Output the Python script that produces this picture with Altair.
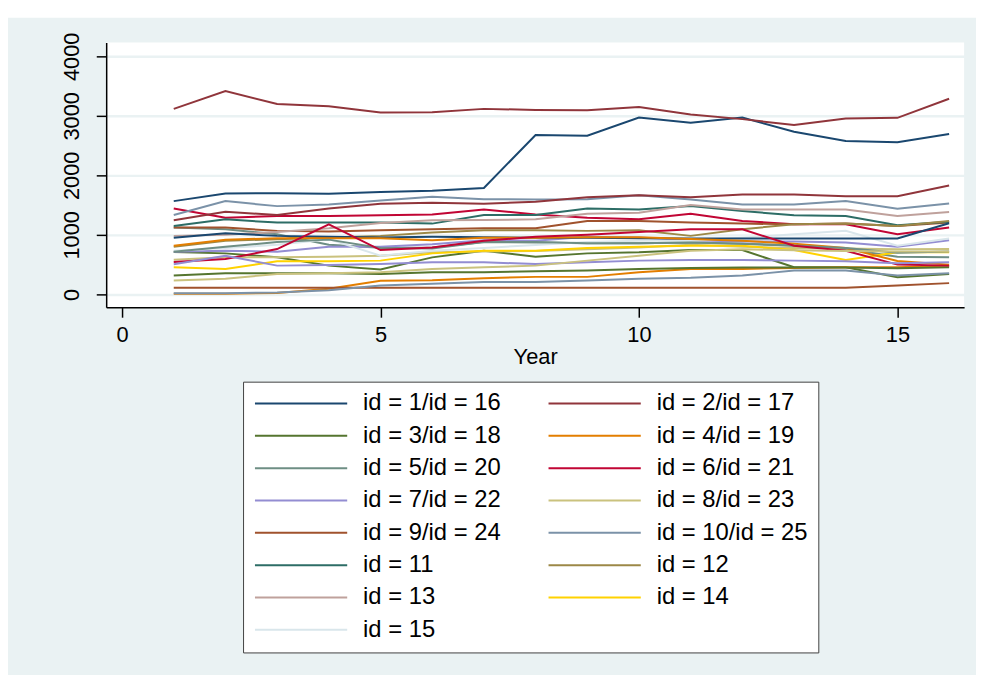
import altair as alt
import pandas as pd

years = list(range(1, 17))

s1 = [1567, 1694, 1700, 1689, 1722, 1740, 1789, 2678, 2667, 2972, 2883, 2972, 2733, 2578, 2555, 2695]
s2 = [3117, 3417, 3200, 3160, 3055, 3060, 3117, 3100, 3095, 3150, 3022, 2945, 2845, 2955, 2967, 3288]
s3 = [711, 689, 622, 483, 417, 622, 733, 633, 689, 706, 744, 744, 456, 456, 289, 344]
s4 = [11, 11, 22, 94, 228, 239, 272, 294, 294, 372, 428, 428, 444, 456, 456, 483]
s5 = [1122, 1094, 1011, 833, 783, 789, 880, 870, 860, 860, 872, 850, 817, 761, 633, 622]
s6 = [1444, 1289, 1317, 1317, 1328, 1344, 1428, 1344, 1289, 1261, 1356, 1233, 1178, 1178, 1011, 1122]
s7 = [717, 733, 717, 800, 800, 844, 911, 900, 967, 956, 911, 889, 889, 872, 800, 911]
s8 = [583, 622, 622, 633, 650, 706, 722, 730, 760, 789, 833, 800, 780, 770, 760, 761]
s9 = [1122, 1122, 1067, 1056, 1078, 1094, 1111, 1111, 1233, 1233, 1206, 1189, 1178, 1189, 1150, 1206]
s10 = [1333, 1567, 1483, 1511, 1578, 1639, 1600, 1594, 1600, 1667, 1594, 1511, 1511, 1567, 1439, 1528]
s11 = [1150, 1261, 1206, 1206, 1206, 1189, 1333, 1333, 1444, 1428, 1483, 1400, 1328, 1317, 1161, 1222]
s12 = [800, 900, 928, 956, 983, 1039, 1078, 1078, 1067, 1078, 983, 1094, 1178, 1189, 1150, 1233]
s13 = [983, 1000, 1050, 1111, 1200, 1244, 1250, 1261, 1356, 1372, 1500, 1428, 1428, 1428, 1317, 1383]
s14 = [456, 428, 556, 556, 567, 689, 733, 733, 778, 800, 817, 817, 744, 578, 706, 706]
s15 = [733, 778, 833, 928, 650, 733, 780, 830, 880, 900, 900, 950, 1011, 1067, 817, 939]
s16 = [950, 1028, 983, 967, 956, 967, 960, 950, 950, 945, 940, 939, 939, 939, 939, 1194]
s17 = [1244, 1389, 1333, 1444, 1522, 1539, 1522, 1556, 1633, 1667, 1633, 1678, 1678, 1650, 1650, 1828]
s18 = [317, 356, 356, 356, 344, 372, 372, 389, 400, 428, 444, 450, 450, 450, 440, 456]
s19 = [817, 917, 944, 944, 944, 911, 950, 950, 960, 960, 930, 900, 850, 780, 560, 500]
s20 = [717, 800, 880, 920, 780, 770, 880, 880, 860, 860, 870, 850, 820, 780, 700, 720]
s21 = [544, 594, 761, 1178, 744, 789, 900, 967, 1000, 1050, 1094, 1094, 817, 733, 500, 483]
s22 = [506, 650, 483, 494, 511, 539, 539, 511, 539, 567, 578, 578, 567, 556, 522, 539]
s23 = [233, 261, 344, 356, 372, 428, 456, 483, 567, 650, 733, 760, 740, 730, 720, 722]
s24 = [111, 111, 111, 111, 111, 111, 111, 111, 111, 111, 111, 111, 111, 111, 150, 189]
s25 = [20, 20, 30, 70, 150, 178, 206, 206, 233, 261, 278, 317, 400, 400, 317, 356]

series = [s1, s2, s3, s4, s5, s6, s7, s8, s9, s10, s11, s12, s13, s14, s15,
          s16, s17, s18, s19, s20, s21, s22, s23, s24, s25]

labels = ["id = 1/id = 16", "id = 2/id = 17", "id = 3/id = 18", "id = 4/id = 19",
          "id = 5/id = 20", "id = 6/id = 21", "id = 7/id = 22", "id = 8/id = 23",
          "id = 9/id = 24", "id = 10/id = 25", "id = 11", "id = 12", "id = 13",
          "id = 14", "id = 15"]

colors = ["#1a476f", "#90353b", "#55752f", "#e37e00", "#6e8e84", "#c10534",
          "#938dd2", "#cac27e", "#a0522d", "#7b92a8", "#2d6d66", "#9c8847",
          "#bfa19c", "#ffd200", "#d9e6eb"]

rows = []
for i, vals in enumerate(series):
    sid = i + 1
    grp = labels[i % 15]
    for yr, v in zip(years, vals):
        rows.append({"id": sid, "grp": grp, "Year": yr, "value": v})
df = pd.DataFrame(rows)

# legend fills column by column: odd ids in the first column, even in the second
order_idx = list(range(0, 15, 2)) + list(range(1, 15, 2))
leg_domain = [labels[k] for k in order_idx]
leg_range = [colors[k] for k in order_idx]

BG = "#eaf2f3"
W, H = 865, 267

lines = alt.Chart(df).mark_line(strokeWidth=2).encode(
    x=alt.X("Year:Q",
            scale=alt.Scale(domain=[-0.307, 16.29], nice=False, zero=False),
            axis=alt.Axis(values=[0, 5, 10, 15], title="Year", grid=False,
                          tickSize=10, tickWidth=1.5, tickColor="black",
                          domainColor="black", domainWidth=1.5,
                          labelFontSize=22, labelFont="Liberation Sans",
                          labelColor="black", labelPadding=7,
                          titleFontSize=22, titleFont="Liberation Sans",
                          titleFontWeight="normal", titleColor="black",
                          titlePadding=2)),
    y=alt.Y("value:Q",
            scale=alt.Scale(domain=[-217, 4233], nice=False, zero=False),
            axis=alt.Axis(values=[0, 1000, 2000, 3000, 4000], title=None,
                          format="d",
                          grid=True, gridColor=BG, gridWidth=2.5,
                          tickSize=10, tickWidth=1.5, tickColor="black",
                          domainColor="black", domainWidth=1.5,
                          labelFontSize=22, labelFont="Liberation Sans",
                          labelColor="black", labelAngle=270,
                          labelAlign="center", labelBaseline="alphabetic",
                          labelPadding=18)),
    color=alt.Color("grp:N",
                    scale=alt.Scale(domain=leg_domain, range=leg_range),
                    sort=leg_domain,
                    legend=alt.Legend(title=None, orient="none",
                                      legendX=138, legendY=342,
                                      columns=2, symbolType="stroke",
                                      symbolSize=8649, symbolStrokeWidth=2,
                                      clipHeight=24, rowPadding=8.6,
                                      columnPadding=46, labelOffset=15,
                                      labelFontSize=24, labelFont="Liberation Sans",
                                      labelColor="black", labelLimit=400,
                                      padding=10, strokeColor="#404040",
                                      fillColor="white", symbolOffset=1)),
    detail="id:N",
    order="Year:Q",
)

top_strip = alt.Chart(pd.DataFrame({"k": [0]})).mark_rect(color="white").encode(
    x=alt.value(-110), x2=alt.value(900), y=alt.value(-40), y2=alt.value(-25)
)

chart = alt.layer(top_strip, lines).properties(
    width=W, height=H,
    background=BG,
    padding={"left": 99, "top": 32, "right": 12, "bottom": 368},
    autosize=alt.AutoSizeParams(type="none"),
).configure_view(fill="white", stroke=None)

chart.save("out.html", embed_options={"renderer": "svg", "actions": False})
